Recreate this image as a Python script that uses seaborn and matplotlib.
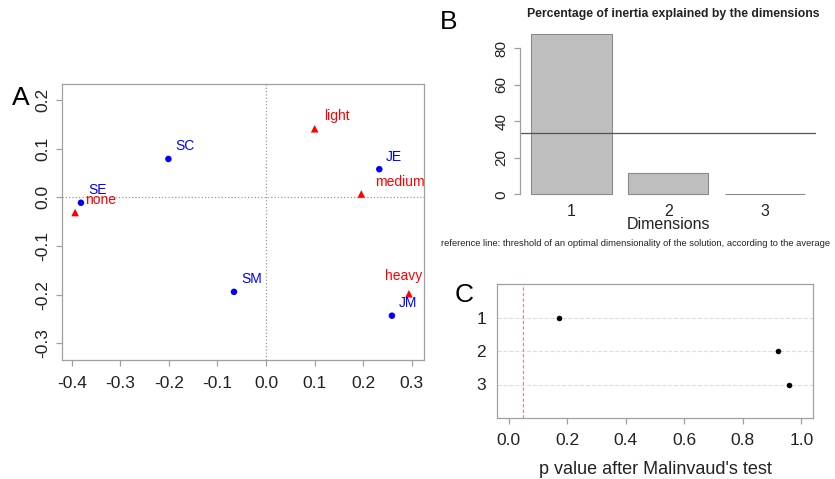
import matplotlib
matplotlib.use("Agg")
import matplotlib.pyplot as plt
import seaborn as sns
import pandas as pd

sns.set_theme(style="white")
plt.rcParams["font.family"] = ["Liberation Sans", "DejaVu Sans"]
plt.rcParams["axes.unicode_minus"] = False

# Panel A: CA biplot coordinates (dim 1, dim 2)
row_labels = ["SM", "JM", "SE", "JE", "SC"]
row_dim1 = [-0.066, 0.259, -0.381, 0.233, -0.201]
row_dim2 = [-0.194, -0.243, -0.011, 0.058, 0.079]
col_labels = ["none", "light", "medium", "heavy"]
col_dim1 = [-0.393, 0.100, 0.196, 0.294]
col_dim2 = [-0.031, 0.141, 0.007, -0.198]

# Panel B: percentage of inertia
dims = ["1", "2", "3"]
inertia_pct = [87.76, 11.76, 0.49]
ref_line = 100 / 3

# Panel C: Malinvaud p values
pvalues = [0.171, 0.919, 0.959]
alpha_level = 0.05

df_rows = pd.DataFrame({"label": row_labels, "d1": row_dim1, "d2": row_dim2})
df_cols = pd.DataFrame({"label": col_labels, "d1": col_dim1, "d2": col_dim2})
df_inertia = pd.DataFrame({"Dimension": dims, "pct": inertia_pct})
df_pval = pd.DataFrame({"Dimension": dims, "p": pvalues})

# label offsets (points) relative to each mark
default_off = (5, 9)
label_off = {"none": (7.5, 9), "light": (6.5, 9), "medium": (10, 8.5), "heavy": (-17, 13)}

W, H = 835, 479
fig = plt.figure(figsize=(W / 100, H / 100), dpi=100)

def px_axes(x0, y0, x1, y1):
    return fig.add_axes([x0 / W, 1 - y1 / H, (x1 - x0) / W, (y1 - y0) / H])

edge = "#a0a0a0"
txt = "#222222"

# ---- Panel A ----
axA = px_axes(62, 84, 424, 360)
sns.scatterplot(data=df_rows, x="d1", y="d2", color="blue", marker="o",
                s=22, edgecolor="none", ax=axA, zorder=3)
sns.scatterplot(data=df_cols, x="d1", y="d2", color="red", marker="^",
                s=30, edgecolor="none", ax=axA, zorder=3)
for df, c in [(df_rows, "blue"), (df_cols, "red")]:
    for _, r in df.iterrows():
        axA.annotate(r["label"], (r["d1"], r["d2"]), xytext=label_off.get(r["label"], default_off),
                     textcoords="offset points", ha="left", va="center", color=c, fontsize=10)
axA.axhline(0, color="#999999", ls=":", lw=0.9, zorder=1)
axA.axvline(0, color="#999999", ls=":", lw=0.9, zorder=1)
axA.set_xlim(-0.42, 0.325)
axA.set_ylim(-0.334, 0.233)
axA.set_xticks([-0.4, -0.3, -0.2, -0.1, 0.0, 0.1, 0.2, 0.3])
axA.set_yticks([-0.3, -0.2, -0.1, 0.0, 0.1, 0.2])
axA.set_xlabel("")
axA.set_ylabel("")
for s in axA.spines.values():
    s.set_color(edge)
    s.set_linewidth(0.9)
axA.tick_params(axis="both", length=4.5, width=0.9, color=edge, labelsize=12.5,
                labelcolor=txt, direction="out", left=True, bottom=True)
axA.tick_params(axis="x", pad=7)
axA.tick_params(axis="y", pad=4, labelrotation=90)
for t in axA.get_yticklabels():
    t.set_va("center")
fig.text(12 / W, 1 - 98 / H, "A", fontsize=19, ha="left", va="center", color="black")

# ---- Panel B ----
axB = px_axes(520, 27, 816, 201)
sns.barplot(data=df_inertia, x="Dimension", y="pct", color="#bebebe", saturation=1,
            edgecolor="#8a8a8a", linewidth=0.8, width=0.833, ax=axB)
axB.axhline(ref_line, color="#555555", lw=0.9)
axB.set_xlim(-0.535, 2.53)
axB.set_ylim(-3.6, 91.5)
axB.set_yticks([0, 20, 40, 60, 80])
sns.despine(ax=axB, bottom=True)
axB.spines["left"].set_bounds(0, 80)
axB.spines["left"].set_color(edge)
axB.spines["left"].set_linewidth(0.9)
axB.tick_params(axis="y", length=4.5, width=0.9, color=edge, labelsize=11,
                labelcolor=txt, direction="out", left=True, pad=4, labelrotation=90)
for t in axB.get_yticklabels():
    t.set_va("center")
axB.tick_params(axis="x", length=0, labelsize=11.5, labelcolor=txt, pad=2)
axB.set_ylabel("")
axB.set_xlabel("Dimensions", fontsize=11.5, color=txt, labelpad=-1)
fig.text(673 / W, 1 - 14 / H, "Percentage of inertia explained by the dimensions",
         fontsize=8.8, fontweight="bold", ha="center", va="center", color=txt)
fig.text(441 / W, 1 - 243 / H,
         "reference line: threshold of an optimal dimensionality of the solution, according to the average",
         fontsize=6.75, ha="left", va="center", color=txt)
fig.text(440 / W, 1 - 22 / H, "B", fontsize=19, ha="left", va="center", color="black")

# ---- Panel C ----
axC = px_axes(497, 284, 813, 418)
sns.stripplot(data=df_pval, x="p", y="Dimension", jitter=False, color="black",
              size=4, ax=axC, zorder=3)
axC.grid(axis="y", color="#dddddd", ls="--", lw=0.8)
axC.grid(axis="x", visible=False)
axC.set_axisbelow(True)
axC.axvline(alpha_level, color="#ff7a7a", ls=(0, (3, 2)), lw=0.8, zorder=2)
axC.set_xlim(-0.04, 1.04)
axC.set_ylim(3, -1)
axC.set_xticks([0.0, 0.2, 0.4, 0.6, 0.8, 1.0])
axC.set_xticklabels(["0.0", "0.2", "0.4", "0.6", "0.8", "1.0"])
for s in axC.spines.values():
    s.set_color(edge)
    s.set_linewidth(0.9)
axC.tick_params(axis="x", length=4.5, width=0.9, color=edge, labelsize=12.5,
                labelcolor=txt, direction="out", bottom=True, pad=6)
axC.tick_params(axis="y", length=0, labelsize=12.5, labelcolor=txt, pad=8)
axC.set_ylabel("")
axC.set_xlabel("p value after Malinvaud's test", fontsize=13, color=txt, labelpad=10)
fig.text(455 / W, 1 - 295 / H, "C", fontsize=19, ha="left", va="center", color="black")

fig.savefig("out.png", dpi=100, facecolor="white")
